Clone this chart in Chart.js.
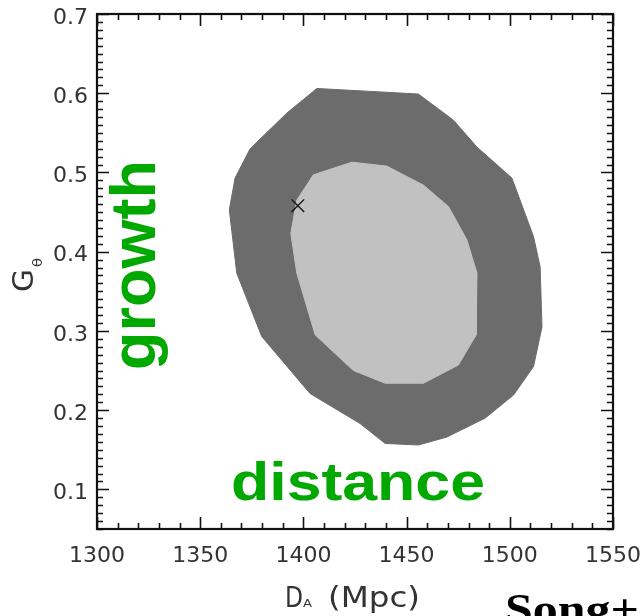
<!DOCTYPE html>
<html>
<head>
<meta charset="utf-8">
<script src="https://cdn.jsdelivr.net/npm/chart.js@4.4.1/dist/chart.umd.min.js"></script>
<style>
  html, body { margin: 0; padding: 0; background: #fff; }
  #wrap { width: 643px; height: 616px; }
</style>
</head>
<body>
<div id="wrap"><canvas id="c" width="643" height="616"></canvas></div>
<script>
// axis ticks
const xTickValues = [1300, 1350, 1400, 1450, 1500, 1550];
const yTickValues = [0.1, 0.2, 0.3, 0.4, 0.5, 0.6, 0.7];

// 95% contour (outer, dark)
const outerX = [1406.5, 1455.7, 1472.7, 1484.1, 1501.0, 1511.5, 1514.7, 1515.6, 1511.5, 1501.8, 1488.1, 1469.5, 1455.7, 1439.6, 1427.5, 1403.2, 1379.8, 1367.7, 1364.1, 1366.9, 1374.2, 1392.0];
const outerY = [0.606, 0.599, 0.566, 0.532, 0.493, 0.419, 0.381, 0.305, 0.255, 0.219, 0.190, 0.166, 0.156, 0.158, 0.183, 0.221, 0.293, 0.373, 0.453, 0.493, 0.530, 0.575];

// 68% contour (inner, light)
const innerX = [1423.5, 1440.4, 1458.2, 1470.3, 1479.2, 1484.1, 1483.7, 1475.1, 1458.2, 1439.6, 1424.2, 1405.7, 1396.8, 1393.9, 1396.8, 1404.8];
const innerY = [0.513, 0.508, 0.484, 0.457, 0.415, 0.373, 0.295, 0.257, 0.234, 0.234, 0.250, 0.295, 0.373, 0.423, 0.465, 0.497];

// fiducial point
const markX = [1397.3];
const markY = [0.458];

const closed = (xs, ys) => {
  const pts = xs.map((x, i) => ({ x: x, y: ys[i] }));
  pts.push({ x: xs[0], y: ys[0] });
  return pts;
};

const X_MINOR = 10, Y_MINOR = 0.01;

// inward ticks on all four sides + frame
const frame = {
  id: 'frame',
  afterDatasetsDraw(chart) {
    const { ctx, chartArea: a, scales: { x, y } } = chart;
    ctx.save();
    ctx.strokeStyle = '#111';
    ctx.lineWidth = 1.6;
    const nx = Math.round((x.max - x.min) / X_MINOR);
    for (let i = 0; i <= nx; i++) {
      const v = x.min + i * X_MINOR;
      const px = Math.round(x.getPixelForValue(v)) + 0.5;
      const len = xTickValues.includes(v) ? 12 : 6;
      ctx.beginPath();
      ctx.moveTo(px, a.bottom); ctx.lineTo(px, a.bottom - len);
      ctx.moveTo(px, a.top); ctx.lineTo(px, a.top + len);
      ctx.stroke();
    }
    const ny = Math.round((y.max - y.min) / Y_MINOR);
    for (let i = 0; i <= ny; i++) {
      const v = +(y.min + i * Y_MINOR).toFixed(2);
      const py = Math.round(y.getPixelForValue(v)) + 0.5;
      const len = yTickValues.some(t => Math.abs(t - v) < 1e-6) ? 12 : 6;
      ctx.beginPath();
      ctx.moveTo(a.left, py); ctx.lineTo(a.left + len, py);
      ctx.moveTo(a.right, py); ctx.lineTo(a.right - len, py);
      ctx.stroke();
    }
    ctx.lineWidth = 2.2;
    ctx.strokeRect(a.left, a.top, a.right - a.left, a.bottom - a.top);
    ctx.restore();
  }
};

function fitText(ctx, text, x, y, font, width) {
  ctx.save();
  ctx.font = font;
  const w = ctx.measureText(text).width;
  ctx.translate(x, y);
  if (width) ctx.scale(width / w, 1);
  ctx.fillText(text, 0, 0);
  ctx.restore();
}

const annotations = {
  id: 'annotations',
  afterDraw(chart) {
    const ctx = chart.ctx;
    ctx.save();
    ctx.textBaseline = 'alphabetic';
    ctx.textAlign = 'left';

    // big green words
    ctx.fillStyle = '#00a800';
    ctx.save();
    ctx.translate(155, 370);
    ctx.rotate(-Math.PI / 2);
    ctx.font = 'bold 63px "Liberation Sans", Arial, sans-serif';
    ctx.fillText('growth', 0, 0);
    ctx.restore();
    fitText(ctx, 'distance', 231, 500, 'bold 53px "Liberation Sans", Arial, sans-serif', 254);

    // axis titles
    ctx.fillStyle = '#333';
    fitText(ctx, 'D', 285, 607, '28px "DejaVu Sans"', 18);
    fitText(ctx, 'A', 303, 607, '11px "DejaVu Sans"', 9);
    fitText(ctx, '(Mpc)', 328, 607, '28px "DejaVu Sans"', 92);

    ctx.save();
    ctx.translate(33, 292);
    ctx.rotate(-Math.PI / 2);
    fitText(ctx, 'G', 0, 0, '28px "DejaVu Sans"', 23);
    fitText(ctx, 'θ', 25, 9, '13px "DejaVu Sans"', 9);
    ctx.restore();

    // citation, cut by the page edge
    ctx.fillStyle = '#000';
    fitText(ctx, 'Song+', 505, 624, 'bold 44px "Liberation Serif", "Times New Roman", serif', 134);
    ctx.restore();
  }
};

new Chart(document.getElementById('c'), {
  type: 'scatter',
  data: {
    datasets: [
      {
        label: 'best fit',
        data: markX.map((x, i) => ({ x: x, y: markY[i] })),
        pointStyle: 'crossRot',
        pointRadius: 9,
        borderColor: '#111',
        borderWidth: 1.4,
        order: 1
      },
      {
        label: '68%',
        data: closed(innerX, innerY),
        showLine: true,
        fill: 'shape',
        backgroundColor: '#c1c1c1',
        borderColor: '#c1c1c1',
        borderWidth: 1,
        pointRadius: 0,
        tension: 0,
        order: 2
      },
      {
        label: '95%',
        data: closed(outerX, outerY),
        showLine: true,
        fill: 'shape',
        backgroundColor: '#6c6c6c',
        borderColor: '#6c6c6c',
        borderWidth: 1,
        pointRadius: 0,
        tension: 0,
        order: 3
      }
    ]
  },
  options: {
    responsive: false,
    devicePixelRatio: 1,
    animation: false,
    layout: { padding: { left: 0, right: 30, top: 14, bottom: 0 } },
    plugins: { legend: { display: false }, tooltip: { enabled: false } },
    scales: {
      x: {
        type: 'linear', min: 1300, max: 1550,
        afterBuildTicks: s => { s.ticks = xTickValues.map(v => ({ value: v })); },
        afterFit: s => { s.height = 87; s.paddingLeft = 0; s.paddingRight = 0; },
        grid: { display: false, drawTicks: false },
        border: { display: false },
        ticks: { color: '#333', font: { family: 'DejaVu Sans', size: 22 }, padding: 14, maxRotation: 0, autoSkip: false, callback: v => String(v) }
      },
      y: {
        type: 'linear', min: 0.05, max: 0.70,
        afterBuildTicks: s => { s.ticks = yTickValues.map(v => ({ value: v })); },
        afterFit: s => { s.width = 97; s.paddingTop = 0; s.paddingBottom = 0; },
        grid: { display: false, drawTicks: false },
        border: { display: false },
        ticks: { color: '#333', font: { family: 'DejaVu Sans', size: 22 }, padding: 9, labelOffset: 4, autoSkip: false, callback: v => v.toFixed(1) }
      }
    }
  },
  plugins: [frame, annotations]
});
</script>
</body>
</html>
